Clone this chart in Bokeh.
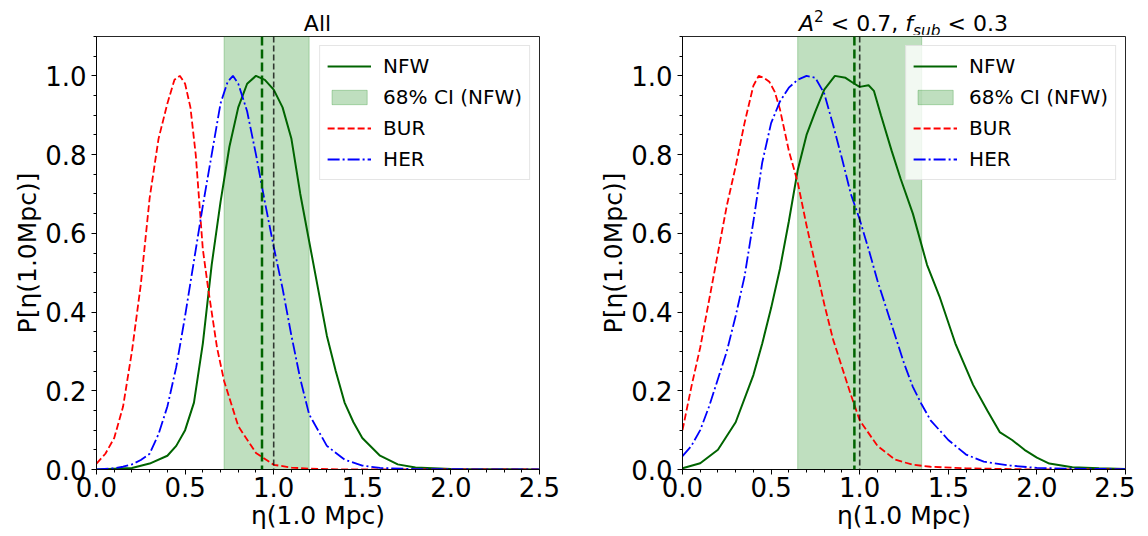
from bokeh.plotting import figure
from bokeh.layouts import row, column
from bokeh.models import (Span, Legend, LegendItem, FixedTicker, Div,
                          PrintfTickFormatter, Range1d)
from bokeh.embed import file_html
from bokeh.resources import INLINE

# ---------------- data ----------------
X_LIM = [0.0, 2.5]
Y_LIM = [0.0, 1.1]
X_MAJOR = [0.0, 0.5, 1.0, 1.5, 2.0, 2.5]
X_MINOR = [round(i * 0.1, 2) for i in range(26)]
Y_MAJOR = [0.0, 0.2, 0.4, 0.6, 0.8, 1.0]
Y_MINOR = [round(i * 0.05, 2) for i in range(23)]

TITLE_LEFT_HTML = "All"
TITLE_RIGHT_HTML = ("<i>A</i><span style='font-size:70%;position:relative;top:-0.6em'>2</span>"
                    " &lt; 0.7, <i>f<span style='font-size:70%;position:relative;top:0.35em'>sub</span></i>"
                    " &lt; 0.3")
X_LABEL = "η(1.0 Mpc)"
Y_LABEL = "P[η(1.0Mpc)]"
LEGEND_LABELS = ["NFW", "68% CI (NFW)", "BUR", "HER"]

# Left panel: "All"
NFW_L_x = [0.0, 0.2, 0.3, 0.4, 0.45, 0.5, 0.55, 0.6, 0.65, 0.7, 0.75, 0.8, 0.85, 0.9, 0.95,
           1.0, 1.05, 1.1, 1.15, 1.2, 1.25, 1.3, 1.35, 1.4, 1.45, 1.5, 1.6, 1.7, 1.8, 2.0, 2.5]
NFW_L_y = [0.0, 0.004, 0.015, 0.035, 0.06, 0.10, 0.17, 0.32, 0.52, 0.68, 0.82, 0.92, 0.98, 1.0, 0.99,
           0.965, 0.92, 0.84, 0.70, 0.58, 0.46, 0.34, 0.25, 0.17, 0.12, 0.08, 0.035, 0.013, 0.005, 0.001, 0.0]
BUR_L_x = [0.0, 0.05, 0.1, 0.15, 0.2, 0.25, 0.3, 0.35, 0.4, 0.44, 0.47, 0.5, 0.53, 0.56, 0.6, 0.63,
           0.68, 0.72, 0.8, 0.9, 1.0, 1.1, 1.2, 1.4, 2.0, 2.5]
BUR_L_y = [0.015, 0.04, 0.08, 0.16, 0.30, 0.47, 0.69, 0.84, 0.93, 0.99, 1.0, 0.98, 0.92, 0.80, 0.56, 0.46,
           0.31, 0.225, 0.11, 0.042, 0.012, 0.005, 0.002, 0.0, 0.0, 0.0]
HER_L_x = [0.0, 0.1, 0.15, 0.2, 0.25, 0.3, 0.35, 0.4, 0.45, 0.5, 0.55, 0.6, 0.65, 0.7, 0.74, 0.77, 0.8,
           0.85, 0.9, 0.95, 1.0, 1.05, 1.1, 1.15, 1.2, 1.3, 1.4, 1.5, 1.6, 1.8, 2.5]
HER_L_y = [0.0, 0.003, 0.007, 0.013, 0.024, 0.04, 0.09, 0.16, 0.26, 0.39, 0.53, 0.67, 0.80, 0.93, 0.985,
           1.0, 0.98, 0.91, 0.80, 0.68, 0.566, 0.46, 0.34, 0.23, 0.14, 0.06, 0.025, 0.01, 0.004, 0.001, 0.0]
CI_L = [0.72, 1.20]
MEDIAN_L = 0.934
REF_L = 1.0

# Right panel: "A^2 < 0.7, f_sub < 0.3"
NFW_R_x = [0.0, 0.1, 0.2, 0.3, 0.4, 0.45, 0.5, 0.55, 0.6, 0.65, 0.7, 0.75, 0.8, 0.86, 0.92, 0.97, 1.0,
           1.05, 1.08, 1.12, 1.18, 1.23, 1.3, 1.38, 1.45, 1.54, 1.64, 1.72, 1.79, 1.86, 1.93, 2.0, 2.07,
           2.2, 2.35, 2.5]
NFW_R_y = [0.003, 0.016, 0.05, 0.12, 0.24, 0.32, 0.41, 0.51, 0.63, 0.76, 0.85, 0.91, 0.965, 1.0, 0.995,
           0.98, 0.972, 0.976, 0.962, 0.90, 0.81, 0.74, 0.65, 0.52, 0.44, 0.32, 0.215, 0.15, 0.095, 0.075,
           0.05, 0.03, 0.015, 0.006, 0.003, 0.001]
BUR_R_x = [0.0, 0.05, 0.1, 0.15, 0.2, 0.25, 0.3, 0.35, 0.4, 0.43, 0.46, 0.49, 0.52, 0.55, 0.6, 0.65, 0.7,
           0.75, 0.8, 0.85, 0.9, 0.95, 1.0, 1.1, 1.2, 1.3, 1.4, 1.6, 2.0, 2.5]
BUR_R_y = [0.10, 0.21, 0.31, 0.43, 0.55, 0.67, 0.77, 0.88, 0.975, 1.0, 0.995, 0.985, 0.96, 0.915, 0.81,
           0.73, 0.62, 0.52, 0.42, 0.33, 0.26, 0.19, 0.125, 0.06, 0.025, 0.012, 0.007, 0.003, 0.0, 0.0]
HER_R_x = [0.0, 0.05, 0.1, 0.15, 0.2, 0.25, 0.3, 0.35, 0.4, 0.45, 0.5, 0.55, 0.6, 0.65, 0.7, 0.75, 0.8,
           0.85, 0.9, 0.95, 1.0, 1.05, 1.1, 1.15, 1.2, 1.25, 1.3, 1.35, 1.4, 1.5, 1.6, 1.7, 1.85, 2.0,
           2.2, 2.5]
HER_R_y = [0.034, 0.06, 0.10, 0.16, 0.23, 0.30, 0.39, 0.49, 0.63, 0.78, 0.88, 0.935, 0.97, 0.99, 1.0,
           0.995, 0.955, 0.875, 0.79, 0.70, 0.635, 0.56, 0.48, 0.41, 0.34, 0.27, 0.21, 0.165, 0.125,
           0.075, 0.038, 0.02, 0.01, 0.004, 0.002, 0.001]
CI_R = [0.65, 1.35]
MEDIAN_R = 0.97
REF_R = 1.0

# ---------------- styling ----------------
FONT = "DejaVu Sans"
FW, FH = 443, 433
TICK_FS = "26px"
LABEL_FS = "25px"
TITLE_FS = 22
BORDER_L_FIRST = 96
BORDER_L_SECOND = 88
BORDER_R_FIRST = 55
BORDER_R_SECOND = 10
TITLE_H = 34


def style_axes(p):
    p.xgrid.visible = False
    p.ygrid.visible = False
    p.outline_line_color = "black"
    p.outline_line_width = 1
    p.outline_line_alpha = 0.85
    p.xaxis.ticker = FixedTicker(ticks=X_MAJOR, minor_ticks=X_MINOR)
    p.yaxis.ticker = FixedTicker(ticks=Y_MAJOR, minor_ticks=Y_MINOR)
    p.xaxis.formatter = PrintfTickFormatter(format="%.1f")
    p.yaxis.formatter = PrintfTickFormatter(format="%.1f")
    for ax in (p.xaxis, p.yaxis):
        ax.axis_line_color = "black"
        ax.axis_line_alpha = 0.85
        ax.axis_line_width = 1
        ax.major_tick_in = 0
        ax.major_tick_out = 5
        ax.minor_tick_in = 0
        ax.minor_tick_out = 3
        ax.major_tick_line_color = "black"
        ax.minor_tick_line_color = "black"
        ax.major_label_text_font = FONT
        ax.major_label_text_font_size = TICK_FS
        ax.major_label_text_color = "black"
        ax.axis_label_text_font = FONT
        ax.axis_label_text_font_size = LABEL_FS
        ax.axis_label_text_font_style = "normal"
        ax.axis_label_text_color = "black"
    p.xaxis.axis_label = X_LABEL
    p.yaxis.axis_label = Y_LABEL
    p.xaxis.major_label_standoff = 2
    p.xaxis.axis_label_standoff = 1
    p.yaxis.major_label_standoff = 5
    p.yaxis.axis_label_standoff = 0


def panel(nx, ny, bx, by, hx, hy, ci, med, ref, mb_left, mb_right):
    p = figure(frame_width=FW, frame_height=FH,
               x_range=Range1d(X_LIM[0], X_LIM[1]), y_range=Range1d(Y_LIM[0], Y_LIM[1]),
               output_backend="svg", toolbar_location=None,
               min_border_left=mb_left, min_border_right=mb_right,
               min_border_top=2, min_border_bottom=20,
               background_fill_color="white", border_fill_color="white")
    style_axes(p)
    band = p.quad(left=[ci[0]], right=[ci[1]], bottom=[Y_LIM[0]], top=[Y_LIM[1]],
                  fill_color="green", fill_alpha=0.25, line_color="green", line_alpha=0.25,
                  line_width=1)
    rn = p.line(nx, ny, line_color="darkgreen", line_width=2)
    rb = p.line(bx, by, line_color="red", line_width=1.8, line_dash="7 3")
    rh = p.line(hx, hy, line_color="blue", line_width=1.8, line_dash="12 3 2 3")
    p.add_layout(Span(location=med, dimension="height", line_color="darkgreen",
                      line_width=2.5, line_dash="9 4"))
    p.add_layout(Span(location=ref, dimension="height", line_color="black", line_alpha=0.75,
                      line_width=1.6, line_dash="6 3"))
    items = [LegendItem(label=LEGEND_LABELS[0], renderers=[rn]),
             LegendItem(label=LEGEND_LABELS[1], renderers=[band]),
             LegendItem(label=LEGEND_LABELS[2], renderers=[rb]),
             LegendItem(label=LEGEND_LABELS[3], renderers=[rh])]
    legend = Legend(items=items, location="top_right", margin=9, padding=7, spacing=5,
                    label_height=26, glyph_height=18, glyph_width=44, label_standoff=12,
                    label_text_font=FONT, label_text_font_size="20px", label_text_color="black",
                    border_line_color="#cccccc", border_line_width=1,
                    background_fill_color="white", background_fill_alpha=0.8)
    p.add_layout(legend)
    return p


def title_div(html, total_w, left_pad):
    inner = (f"<div style=\"width:{FW}px;margin-left:{left_pad}px;text-align:center;"
             f"font-family:'{FONT}';font-size:{TITLE_FS}px;line-height:26px;padding-top:11px;"
             f"color:black;white-space:nowrap;\">{html}</div>")
    return Div(text=inner, width=total_w, height=TITLE_H, margin=(0, 0, 0, 0))


left = panel(NFW_L_x, NFW_L_y, BUR_L_x, BUR_L_y, HER_L_x, HER_L_y, CI_L, MEDIAN_L, REF_L,
             BORDER_L_FIRST, BORDER_R_FIRST)
right = panel(NFW_R_x, NFW_R_y, BUR_R_x, BUR_R_y, HER_R_x, HER_R_y, CI_R, MEDIAN_R, REF_R,
              BORDER_L_SECOND, BORDER_R_SECOND)

titles = row(title_div(TITLE_LEFT_HTML, BORDER_L_FIRST + FW + BORDER_R_FIRST, BORDER_L_FIRST),
             title_div(TITLE_RIGHT_HTML, BORDER_L_SECOND + FW + BORDER_R_SECOND, BORDER_L_SECOND))
layout = column(titles, row(left, right))
open("out.html", "w").write(file_html(layout, INLINE))
